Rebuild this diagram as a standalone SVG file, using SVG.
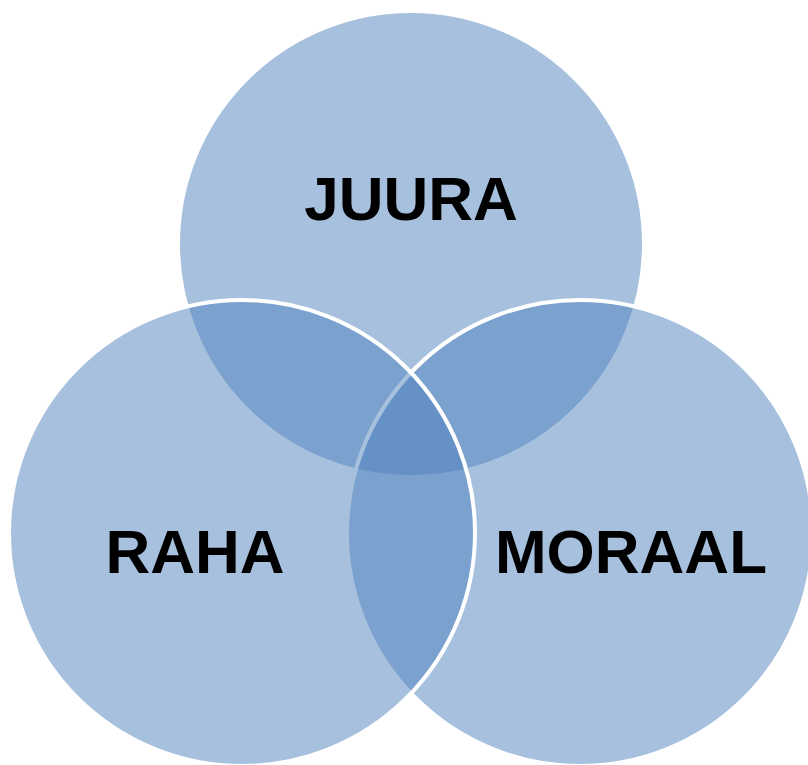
<svg xmlns="http://www.w3.org/2000/svg" width="808" height="765" viewBox="0 0 808 765">
<style>
.c{fill:#4F81BD;fill-opacity:0.5;stroke:#FFFFFF;stroke-width:4}
.t{font-family:"Liberation Sans",Arial,sans-serif;font-weight:bold;font-size:62px;fill:#000000;text-anchor:middle}
</style>
<rect width="808" height="765" fill="#FFFFFF"/>
<g id="juura"><circle class="c" cx="411" cy="244" r="233"/></g>
<g id="moraal"><circle class="c" cx="580" cy="533" r="233"/></g>
<g id="raha"><circle class="c" cx="242" cy="533" r="233"/></g>
<g id="labels">
<text class="t" x="411" y="220">JUURA</text>
<text class="t" x="195" y="573">RAHA</text>
<text class="t" x="631" y="573">MORAAL</text>
</g>
<g id="connectors"/>
</svg>
